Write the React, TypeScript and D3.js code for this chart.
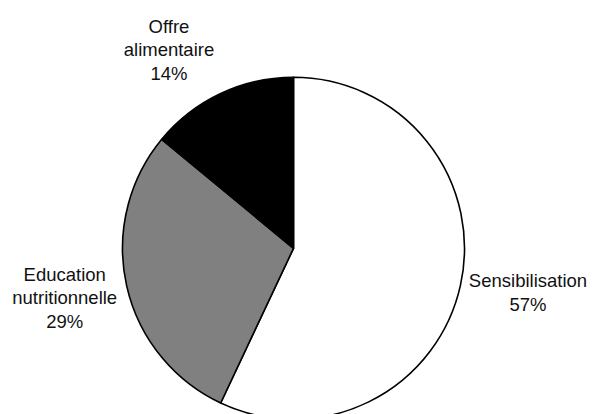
import React from "react";
import * as d3 from "d3";

const categories = ["Sensibilisation", "Education nutritionnelle", "Offre alimentaire"];
const labelLines = [["Sensibilisation", "57%"], ["Education", "nutritionnelle", "29%"], ["Offre", "alimentaire", "14%"]];
const values = [57, 29, 14];
const colors = ["#ffffff", "#808080", "#000000"];
// label placement: radius from centre and angular nudge (degrees), per slice
const labelRadius = [238.5, 234, 235];
const labelAngleNudge = [-2.1, 0.5, -6.8];

const W = 592, H = 414;
const cx = 293.5, cy = 248.3, R = 171;
const fontSize = 18.5, lineH = 23.5;

export default function App() {
  const pie = d3.pie<number>().sort(null).value((d) => d)(values);
  const arc = d3.arc<d3.PieArcDatum<number>>().innerRadius(0).outerRadius(R);
  return (
    <svg width={W} height={H} style={{ position: "absolute", left: 0, top: 0, background: "#fff" }}
      fontFamily="'Liberation Sans', Arial, sans-serif" fontSize={fontSize}>
      <g transform={`translate(${cx},${cy})`}>
        {pie.map((p, i) => (
          <path key={categories[i]} d={arc(p) || ""} fill={colors[i]} stroke="#000" strokeWidth={1.6} strokeLinejoin="round" />
        ))}
        {pie.map((p, i) => {
          const a = (p.startAngle + p.endAngle) / 2 + (labelAngleNudge[i] * Math.PI) / 180;
          const x = labelRadius[i] * Math.sin(a);
          const y = -labelRadius[i] * Math.cos(a);
          const lines = labelLines[i];
          const y0 = y - ((lines.length - 1) * lineH) / 2;
          return (
            <text key={"l" + i} x={x} y={y0} textAnchor="middle" dominantBaseline="central" fill="#111">
              {lines.map((t, j) => (
                <tspan key={j} x={x} y={y0 + j * lineH}>{t}</tspan>
              ))}
            </text>
          );
        })}
      </g>
    </svg>
  );
}
